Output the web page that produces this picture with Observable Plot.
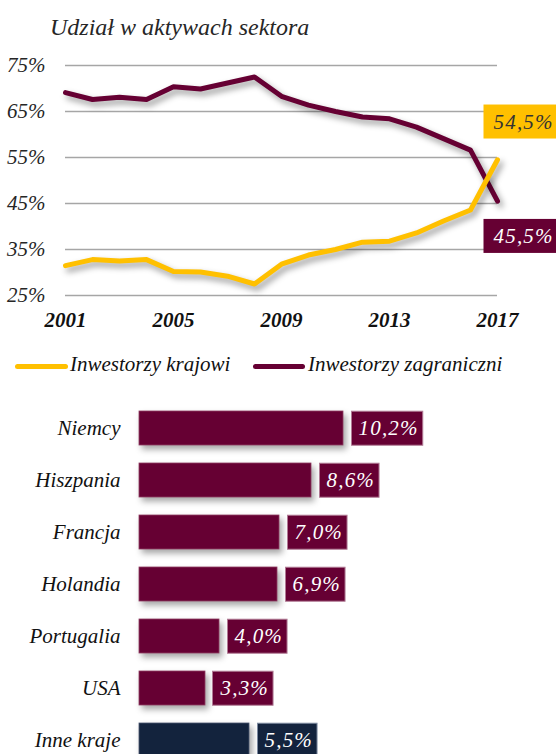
<!DOCTYPE html>
<html><head><meta charset="utf-8">
<script src="https://cdn.jsdelivr.net/npm/d3@7"></script>
<script src="https://cdn.jsdelivr.net/npm/@observablehq/plot@0.6"></script>
<style>
html,body{margin:0;padding:0;background:#fff;overflow:hidden;}
#root{position:relative;width:556px;height:754px;overflow:hidden;font-family:"Liberation Serif",serif;font-style:italic;}
.title{position:absolute;left:50px;top:15px;font-size:24px;line-height:24px;color:#262626;white-space:nowrap;}
#lines{position:absolute;left:0;top:0;}
#bars{position:absolute;left:0;top:390px;}
.legend-item{position:absolute;top:354px;font-size:21px;line-height:21px;color:#111;white-space:nowrap;}
.swatch{position:absolute;height:5px;border-radius:3px;top:364px;}
g[aria-description="series-line"] path{filter:drop-shadow(3px 4px 3px rgba(0,0,0,0.4));}
g[aria-description="bar"]{filter:drop-shadow(3px 4px 3px rgba(0,0,0,0.35));}
g[aria-description="bar-label"] text,
g[aria-description="end-domestic"] text,
g[aria-description="end-foreign"] text{letter-spacing:1.2px;}
</style>
</head><body>
<div id="root">
  <div class="title" id="title"></div>
  <div id="lines"></div>
  <div id="legend"></div>
  <div id="bars"></div>
</div>
<script>
// ---- data ----
const titleText = "Udział w aktywach sektora";
const seriesNames = ["Inwestorzy krajowi", "Inwestorzy zagraniczni"];
const years = [2001,2002,2003,2004,2005,2006,2007,2008,2009,2010,2011,2012,2013,2014,2015,2016,2017];
const domestic = [31.5,32.8,32.5,32.8,30.2,30.1,29.2,27.5,31.8,33.8,35.0,36.6,36.8,38.6,41.2,43.6,54.5];
const foreign  = [69.1,67.6,68.1,67.6,70.4,69.9,71.2,72.5,68.3,66.4,65.0,63.8,63.4,61.6,59.1,56.6,45.5];
const yTicks = [25,35,45,55,65,75];
const xTicks = [2001,2005,2009,2013,2017];
const countries = ["Niemcy","Hiszpania","Francja","Holandia","Portugalia","USA","Inne kraje"];
const shares = [10.2,8.6,7.0,6.9,4.0,3.3,5.5];
const otherCategory = "Inne kraje";

// ---- styles ----
const gold = "#FFC000", maroon = "#660033", navy = "#13233D", grid = "#a6a6a6";
const fmt = v => v.toFixed(1).replace(".", ",") + "%";

document.getElementById("title").textContent = titleText;

// ---- line chart ----
const lineData = years.flatMap((yr, i) => [
  {year: yr, value: foreign[i], series: seriesNames[1]},
  {year: yr, value: domestic[i], series: seriesNames[0]}
]);
const lastYear = years[years.length - 1];
const endDomestic = [{year: lastYear, value: domestic[domestic.length - 1]}];
const endForeign = [{year: lastYear, value: foreign[foreign.length - 1]}];

const chart1 = Plot.plot({
  width: 556, height: 340,
  marginTop: 65, marginBottom: 45, marginLeft: 65, marginRight: 59,
  style: {fontFamily: "Liberation Serif", fontStyle: "italic", fontSize: "21px", color: "#262626", background: "transparent"},
  x: {domain: [years[0], lastYear]},
  y: {domain: [yTicks[0], yTicks[yTicks.length - 1]]},
  color: {domain: seriesNames, range: [gold, maroon]},
  marks: [
    Plot.ruleY(yTicks, {stroke: grid, strokeWidth: 1.5}),
    Plot.axisY({ticks: yTicks, tickFormat: d => d + "%", tickSize: 0, tickPadding: 20, label: null, fontSize: 21, fontStyle: "italic", fill: "#262626"}),
    Plot.axisX({ticks: xTicks, tickFormat: d => String(d), tickSize: 0, tickPadding: 17, label: null, fontSize: 21, fontStyle: "italic", fontWeight: "bold", fill: "#111"}),
    Plot.line(lineData, {x: "year", y: "value", z: "series", stroke: "series", strokeWidth: 5, strokeLinejoin: "round", ariaDescription: "series-line"}),
    Plot.text(endDomestic, {x: "year", y: "value", text: d => fmt(d.value), dx: -4, dy: -38, textAnchor: "start", fill: "#333", fontSize: 21, fontStyle: "italic", ariaDescription: "end-domestic"}),
    Plot.text(endForeign, {x: "year", y: "value", text: d => fmt(d.value), dx: -4, dy: 35, textAnchor: "start", fill: "#fff", fontSize: 21, fontStyle: "italic", ariaDescription: "end-foreign"})
  ]
});
document.getElementById("lines").appendChild(chart1);

// ---- legend ----
const legend = document.getElementById("legend");
[[gold, 15, 53, 70], [maroon, 253, 52, 308]].forEach(([c, sx, sw, tx], i) => {
  const s = document.createElement("div");
  s.className = "swatch"; s.style.left = sx + "px"; s.style.width = sw + "px"; s.style.background = c;
  legend.appendChild(s);
  const t = document.createElement("div");
  t.className = "legend-item"; t.style.left = tx + "px"; t.textContent = seriesNames[i];
  legend.appendChild(t);
});

// ---- bar chart ----
const barData = countries.map((c, i) => ({country: c, value: shares[i]}));
const barFill = d => d.country === otherCategory ? navy : maroon;
const chart2 = Plot.plot({
  width: 556, height: 376,
  marginTop: 12, marginBottom: 0, marginLeft: 139, marginRight: 17,
  style: {fontFamily: "Liberation Serif", fontStyle: "italic", fontSize: "21px", color: "#111", background: "transparent"},
  x: {domain: [0, 20], axis: null},
  y: {domain: countries, paddingInner: 0.346, paddingOuter: 0.173, axis: null},
  marks: [
    Plot.barX(barData, {x: "value", y: "country", fill: barFill, stroke: d => d.country === otherCategory ? "#4a5670" : "#8f3d62", strokeWidth: 0.8, ariaDescription: "bar"}),
    Plot.axisY({tickSize: 0, tickPadding: 19, label: null, fontSize: 21, fontStyle: "italic", fill: "#111"}),
    Plot.text(barData, {x: "value", y: "country", text: d => fmt(d.value), dx: 15, textAnchor: "start", fill: "#fff", fontSize: 21, fontStyle: "italic", ariaDescription: "bar-label"})
  ]
});
document.getElementById("bars").appendChild(chart2);

// ---- label boxes drawn behind the text marks ----
function boxLabels(svg, label, fillFn, strokeFn, padL, padR, h) {
  svg.querySelectorAll(`g[aria-description="${label}"] text`).forEach((t, i) => {
    const bb = t.getBBox();
    const r = document.createElementNS("http://www.w3.org/2000/svg", "rect");
    r.setAttribute("x", bb.x - padL);
    r.setAttribute("width", bb.width + padL + padR);
    r.setAttribute("y", bb.y + bb.height / 2 - h / 2);
    r.setAttribute("height", h);
    r.setAttribute("fill", fillFn(i));
    const st = strokeFn(i);
    if (st) { r.setAttribute("stroke", st); r.setAttribute("stroke-width", 1); }
    const tr = t.getAttribute("transform");
    if (tr) r.setAttribute("transform", tr);
    t.parentNode.insertBefore(r, t);
  });
}
boxLabels(chart1, "end-domestic", () => gold, () => null, 10, 12, 34);
boxLabels(chart1, "end-foreign", () => maroon, () => null, 10, 12, 34);
const bw = chart2.scale("y").bandwidth;
boxLabels(chart2, "bar-label", i => barFill(barData[i]), i => barData[i].country === otherCategory ? "#7d8aa0" : "#b07a94", 7, 4, bw);
</script>
</body></html>
